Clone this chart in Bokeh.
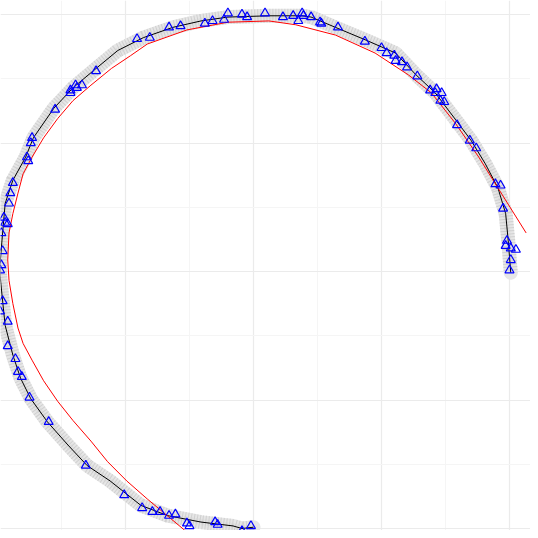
from bokeh.plotting import figure
from bokeh.models import Range1d, FixedTicker
from bokeh.embed import file_html
from bokeh.resources import INLINE

# black path (true curve)
path_x = [0.00, -0.09, -0.16, -0.41, -0.67, -0.88, -1.12, -1.30, -1.45, -1.61, -1.74, -1.82,
          -1.88, -1.94, -1.96, -1.98, -1.98, -1.96, -1.94, -1.88, -1.78, -1.72, -1.56, -1.41,
          -1.23, -1.06, -0.86, -0.63, -0.41, -0.20, 0.12, 0.38, 0.45, 0.64, 0.88, 1.11, 1.27,
          1.42, 1.58, 1.70, 1.81, 1.91, 1.97, 1.99, 2.01]
path_y = [-1.99, -2.00, -1.98, -1.95, -1.90, -1.82, -1.63, -1.51, -1.35, -1.17, -0.99, -0.83,
          -0.65, -0.42, -0.23, -0.03, 0.06, 0.30, 0.53, 0.71, 0.89, 1.04, 1.27, 1.43,
          1.58, 1.72, 1.82, 1.90, 1.95, 1.98, 1.99, 1.99, 1.98, 1.90, 1.80, 1.70, 1.53,
          1.39, 1.18, 1.02, 0.84, 0.65, 0.45, 0.24, -0.01]

# noisy observations (triangles)
obs_x = [-0.02, -0.09, -0.28, -0.30, -0.50, -0.52, -0.61, -0.66, -0.73, -0.79, -0.87, -1.01,
         -1.31, -1.60, -1.75, -1.81, -1.84, -1.86, -1.92, -1.92, -1.98, -1.96, -1.98,
         -1.97, -1.96, -1.92, -1.94, -1.95, -1.91, -1.90, -1.88,
         -1.97, -1.77, -1.76, -1.74, -1.73, -1.55, -1.43, -1.43, -1.39, -1.38, -1.34, -1.23,
         -0.91, -0.81, -0.66, -0.57, -0.38, -0.32, -0.23, -0.20, -0.09, -0.05, 0.09,
         0.23, 0.31, 0.35, 0.38, 0.39, 0.45, 0.52, 0.53, 0.66, 0.87, 1.00, 1.04, 1.10, 1.11,
         1.16, 1.20, 1.28, 1.38, 1.42, 1.43, 1.47, 1.46, 1.49, 1.59, 1.69, 1.74, 1.89, 1.93,
         1.95, 1.98, 1.97, 2.01, 2.05, 2.01, 2.00]
obs_y = [-1.98, -2.02, -1.97, -1.95, -1.98, -1.96, -1.89, -1.90, -1.87, -1.87, -1.84, -1.74,
         -1.51, -1.17, -0.98, -0.82, -0.78, -0.68, -0.58, -0.39, -0.31, -0.23, 0.01,
         0.05, 0.16, 0.37, 0.38, 0.42, 0.53, 0.61, 0.69,
         0.30, 0.89, 0.86, 1.00, 1.04, 1.26, 1.41, 1.39, 1.45, 1.43, 1.45, 1.56,
         1.81, 1.82, 1.90, 1.91, 1.93, 1.95, 1.96, 2.01, 2.00, 1.98, 2.01,
         1.98, 1.99, 1.95, 2.01, 1.99, 1.98, 1.94, 1.93, 1.90, 1.79, 1.74, 1.70, 1.68, 1.64,
         1.63, 1.59, 1.52, 1.41, 1.39, 1.42, 1.39, 1.33, 1.32, 1.14, 1.02, 0.96, 0.68, 0.67,
         0.49, 0.24, 0.20, 0.18, 0.17, 0.09, 0.01]

# fitted curve (red)
fit_x = [-0.43, -0.47, -0.65, -0.83, -0.99, -1.14, -1.27, -1.41, -1.53, -1.64, -1.73, -1.80,
         -1.84, -1.88, -1.91, -1.92, -1.91, -1.88, -1.84, -1.80, -1.73, -1.64, -1.53, -1.41,
         -1.27, -1.11, -0.96, -0.83, -0.52, -0.20, 0.12, 0.33, 0.64, 0.95, 1.21, 1.39, 1.58,
         1.76, 1.91, 2.13]
fit_y = [-2.13, -2.07, -1.92, -1.77, -1.63, -1.48, -1.32, -1.16, -1.01, -0.85, -0.69, -0.56,
         -0.44, -0.25, -0.07, 0.09, 0.30, 0.45, 0.61, 0.76, 0.89, 1.04, 1.19, 1.33,
         1.45, 1.58, 1.68, 1.77, 1.88, 1.94, 1.95, 1.92, 1.84, 1.70, 1.53, 1.39, 1.15,
         0.89, 0.65, 0.30]

major_ticks = [-2, -1, 0, 1, 2]
minor_ticks = [-2.5, -1.5, -0.5, 0.5, 1.5, 2.5]

W = H = 530
x0 = -253 / 128
y1 = 271 / 128.5
p = figure(width=W, height=H, output_backend="svg", toolbar_location=None,
           x_range=Range1d(x0, x0 + W / 128), y_range=Range1d(y1 - H / 128.5, y1),
           min_border=0, outline_line_color=None, background_fill_color="white",
           border_fill_color="white")
p.axis.visible = False
for g in (p.xgrid, p.ygrid):
    g.ticker = FixedTicker(ticks=major_ticks, minor_ticks=minor_ticks)
    g.grid_line_color = "#ebebeb"
    g.grid_line_width = 1.2
    g.minor_grid_line_color = "#f5f5f5"
    g.minor_grid_line_width = 1

# band of grey circles along the true path
p.line(path_x, path_y, line_width=14, line_color="#e6e6e6",
       line_join="round", line_cap="round")
p.line(path_x, path_y, line_width=14, line_color="#a0a0a0", line_alpha=0.3,
       line_dash="1 2", line_join="round")
p.line(path_x, path_y, line_width=6, line_color="#c8c8c8", line_alpha=0.3,
       line_dash="1 1", line_join="round")
p.line(path_x, path_y, line_color="black", line_width=1)
p.line(fit_x, fit_y, line_color="red", line_width=1)
p.scatter(obs_x, obs_y, marker="triangle", size=9, fill_color=None,
          line_color="blue", line_width=1.2)

open("out.html", "w").write(file_html(p, INLINE))
